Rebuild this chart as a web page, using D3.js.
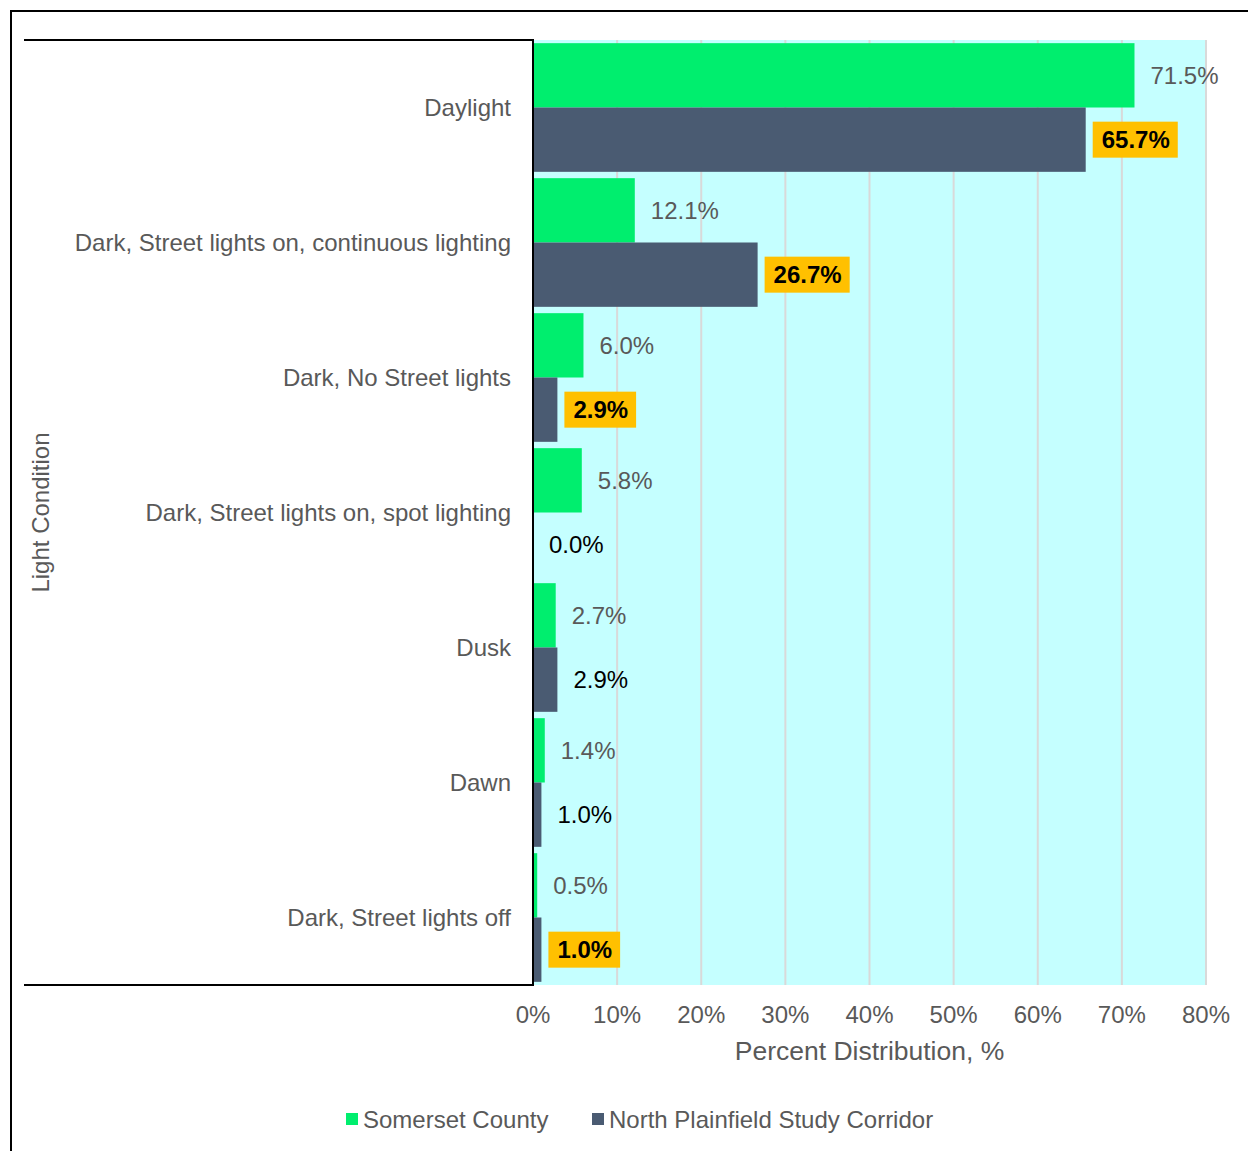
<!DOCTYPE html>
<html><head><meta charset="utf-8">
<script src="https://cdn.jsdelivr.net/npm/d3@7"></script>
<style>
html,body{margin:0;padding:0;background:#fff;}
text{font-family:"Liberation Sans",Arial,sans-serif;}
</style></head>
<body>
<svg id="chart" width="1248" height="1151"></svg>
<script>
const categories = ["Daylight","Dark, Street lights on, continuous lighting","Dark, No Street lights","Dark, Street lights on, spot lighting","Dusk","Dawn","Dark, Street lights off"];
const somerset = [71.5, 12.1, 6.0, 5.8, 2.7, 1.4, 0.5];
const corridor = [65.7, 26.7, 2.9, 0.0, 2.9, 1.0, 1.0];
const highlighted = [true, true, true, false, false, false, true];
const seriesNames = ["Somerset County","North Plainfield Study Corridor"];
const xTicks = [0,10,20,30,40,50,60,70,80];

(function(){
const svg = d3.select("#chart");
const pL = 533, pR = 1206, pT = 40, pB = 985;
const green = "#00EE6E", dark = "#4A5B72", grey = "#595959";
const fs = 24;

// outer frame
svg.append("path").attr("d","M11,1151 L11,11 L1248,11").attr("fill","none").attr("stroke","#000").attr("stroke-width",2);

const x = d3.scaleLinear().domain([0,80]).range([pL,pR]);
const y = d3.scaleBand().domain(categories).range([pT,pB]).paddingInner(0.047).paddingOuter(0.0235);
const ySub = d3.scaleBand().domain([0,1]).range([0,y.bandwidth()]);

// plot background
svg.append("rect").attr("x",pL).attr("y",pT).attr("width",pR-pL).attr("height",pB-pT).attr("fill","#C5FFFF");
// gridlines
svg.append("g").selectAll("line").data(xTicks.slice(1)).join("line")
  .attr("x1",d=>x(d)).attr("x2",d=>x(d)).attr("y1",pT).attr("y2",pB)
  .attr("stroke","#D9D9D9").attr("stroke-width",2);

// bars
const series = [somerset, corridor];
series.forEach((vals,si)=>{
  svg.append("g").selectAll("rect").data(vals).join("rect")
    .attr("x",pL).attr("y",(d,i)=>y(categories[i])+ySub(si))
    .attr("width",d=>x(d)-pL).attr("height",ySub.bandwidth())
    .attr("fill",si===0?green:dark);
});

// white category box
svg.append("rect").attr("x",24).attr("y",pT).attr("width",pL-24).attr("height",pB-pT).attr("fill","#fff");
svg.append("path").attr("d",`M24,${pT} L${pL},${pT} L${pL},${pB} L24,${pB}`)
  .attr("fill","none").attr("stroke","#000").attr("stroke-width",2);

// category labels
svg.append("g").selectAll("text").data(categories).join("text")
  .attr("x",511).attr("y",d=>y(d)+y.bandwidth()/2).attr("dy","0.35em")
  .attr("text-anchor","end").attr("font-size",fs).attr("fill",grey).text(d=>d);

// data labels
svg.append("g").selectAll("text").data(somerset).join("text")
  .attr("x",d=>x(d)+16).attr("y",(d,i)=>y(categories[i])+ySub(0)+ySub.bandwidth()/2).attr("dy","0.35em")
  .attr("font-size",fs).attr("fill",grey).text(d=>d.toFixed(1)+"%");

const cg = svg.append("g");
corridor.forEach((d,i)=>{
  const cy = y(categories[i])+ySub(1)+ySub.bandwidth()/2;
  const tx = x(d)+16;
  let bg;
  if(highlighted[i]) bg = cg.append("rect").attr("fill","#FFC000");
  const t = cg.append("text").attr("x",tx).attr("y",cy).attr("dy","0.35em")
    .attr("font-size",fs).attr("fill","#000").attr("font-weight",highlighted[i]?"bold":"normal")
    .text(d.toFixed(1)+"%");
  if(bg){
    const w = t.node().getComputedTextLength();
    bg.attr("x",tx-9).attr("y",cy-18).attr("width",w+17).attr("height",36);
  }
});

// x ticks
svg.append("g").selectAll("text").data(xTicks).join("text")
  .attr("x",d=>x(d)).attr("y",1023).attr("text-anchor","middle")
  .attr("font-size",fs).attr("fill",grey).text(d=>d+"%");
svg.append("text").attr("x",(pL+pR)/2).attr("y",1060).attr("text-anchor","middle")
  .attr("font-size",26.5).attr("fill",grey).text("Percent Distribution, %");
svg.append("text").attr("transform",`translate(49,${(pT+pB)/2}) rotate(-90)`).attr("text-anchor","middle")
  .attr("font-size",fs).attr("fill",grey).text("Light Condition");

// legend
const lg = svg.append("g");
const lx = [346, 592];
seriesNames.forEach((n,i)=>{
  lg.append("rect").attr("x",lx[i]).attr("y",1113).attr("width",12).attr("height",12).attr("fill",i===0?green:dark);
  lg.append("text").attr("x",lx[i]+17).attr("y",1120).attr("dy","0.35em").attr("font-size",fs).attr("fill",grey).text(n);
});
})();
</script>
</body></html>
